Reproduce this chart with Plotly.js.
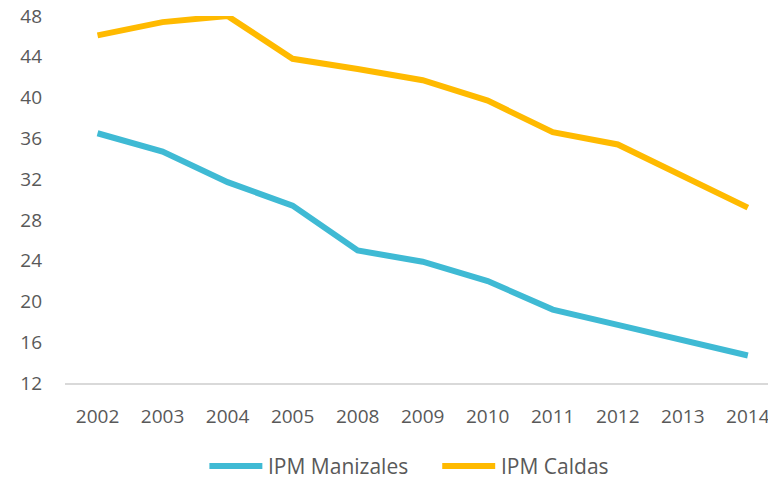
<!DOCTYPE html>
<html>
<head>
<meta charset="utf-8">
<script src="https://cdn.plot.ly/plotly-3.0.1.min.js"></script>
<style>html,body{margin:0;padding:0;background:#fff;}#chart{width:768px;height:479px;}</style>
</head>
<body>
<div id="chart"></div>
<script>
const years = ["2002","2003","2004","2005","2008","2009","2010","2011","2012","2013","2014"];
const ipmManizales = [36.5, 34.7, 31.7, 29.4, 25.0, 23.9, 22.0, 19.2, 17.7, 16.2, 14.7];
const ipmCaldas = [46.1, 47.4, 48.0, 43.8, 42.8, 41.7, 39.7, 36.6, 35.4, 32.3, 29.2];
const yTicks = [12, 16, 20, 24, 28, 32, 36, 40, 44, 48];
const seriesNames = ["IPM Manizales", "IPM Caldas"];
const seriesColors = ["#3FBAD4", "#FFBA00"];

const W = 768, H = 479;
const M = {l: 64.5, r: 0, t: 16, b: 96};
const pw = W - M.l - M.r, ph = H - M.t - M.b;
const px2x = p => (p - M.l) / pw;
const py2y = p => (H - M.b - p) / ph;

const traces = [
  {x: years, y: ipmManizales, name: seriesNames[0], type: "scatter", mode: "lines",
   line: {color: seriesColors[0], width: 6}, cliponaxis: false, showlegend: false},
  {x: years, y: ipmCaldas, name: seriesNames[1], type: "scatter", mode: "lines",
   line: {color: seriesColors[1], width: 6}, cliponaxis: false, showlegend: false}
];

// custom legend (symbol lines + labels)
const legendItems = [{x0: 209, x1: 262, tx: 266}, {x0: 442, x1: 495, tx: 499}];
const legendY = 466;
const shapes = legendItems.map((it, i) => ({
  type: "line", xref: "paper", yref: "paper",
  x0: px2x(it.x0), x1: px2x(it.x1), y0: py2y(legendY), y1: py2y(legendY),
  line: {color: seriesColors[i], width: 6}
}));
const annotations = legendItems.map((it, i) => ({
  xref: "paper", yref: "paper", x: px2x(it.tx), y: py2y(legendY),
  xanchor: "left", yanchor: "middle", showarrow: false,
  text: seriesNames[i], font: {size: 21, color: "#595959", family: "Open Sans, sans-serif"}
}));

const layout = {
  width: W, height: H,
  margin: M,
  paper_bgcolor: "#fff", plot_bgcolor: "#fff",
  font: {family: "Open Sans, sans-serif", color: "#595959", size: 19},
  showlegend: false,
  shapes: shapes,
  annotations: annotations,
  xaxis: {type: "category", range: [-0.5, 10.31], showgrid: false, zeroline: false, automargin: false,
          showline: true, linecolor: "#D9D9D9", linewidth: 1.5,
          ticks: "", ticklabelstandoff: 16, tickfont: {size: 19, color: "#595959"}, fixedrange: true},
  yaxis: {range: [12, 48], tickvals: yTicks, ticktext: yTicks.map(String), automargin: false,
          showgrid: false, zeroline: false, showline: false, ticks: "",
          ticklabelstandoff: 22, tickfont: {size: 19, color: "#595959"}, fixedrange: true}
};

Plotly.newPlot("chart", traces, layout, {displayModeBar: false, staticPlot: true});
</script>
</body>
</html>
